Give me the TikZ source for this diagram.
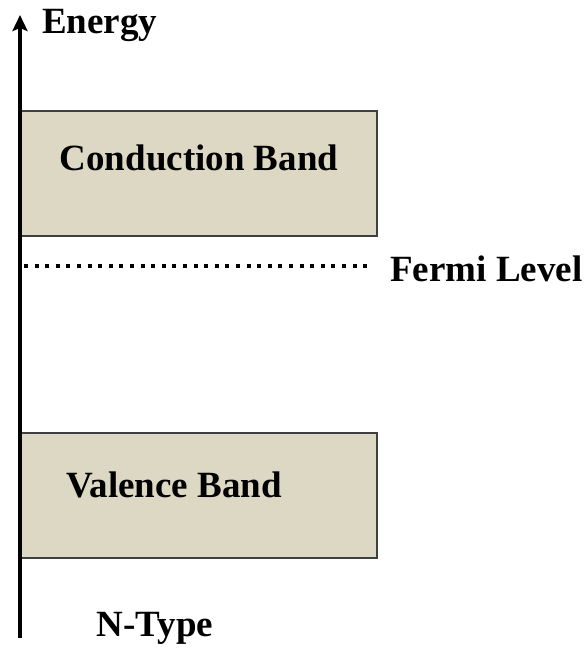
\documentclass[tikz,border=0pt]{standalone}
\usepackage{fontspec}
\usetikzlibrary{arrows.meta}
\setmainfont{Liberation Serif}
\begin{document}
\begin{tikzpicture}[x=1pt,y=-1pt,
  band/.style={draw=black!75, line width=1.3pt, fill=bandfill},
  lbl/.style={font=\fontsize{37}{42}\selectfont\bfseries, inner sep=0pt},
  axis/.style={line width=4pt, -{Stealth[length=16pt,width=15pt,inset=3pt]}}]
\definecolor{bandfill}{RGB}{221,216,196}
\useasboundingbox (0,0) rectangle (585,650);
% energy bands
\draw[band] (20,111) rectangle (377,236);
\draw[band] (20,433) rectangle (377,558);
\node[lbl] (cb) at (199,158) {Conduction Band};
\node[lbl] (vb) at (174,485) {Valence Band};
% Fermi level
\coordinate (fl0) at (24,266);
\coordinate (fl1) at (372,266);
\draw[line width=4pt, dash pattern=on 4pt off 6.6pt] (fl0) -- (fl1);
\node[lbl, anchor=west] (fl) at (390,269) {Fermi Level};
% energy axis
\coordinate (ax0) at (20,638);
\coordinate (ax1) at (20,15);
\draw[axis] (ax0) -- (ax1);
\node[lbl, anchor=west] (en) at (42,25) {Energy};
\node[lbl] (nt) at (155,628) {N-Type};
\end{tikzpicture}
\end{document}
